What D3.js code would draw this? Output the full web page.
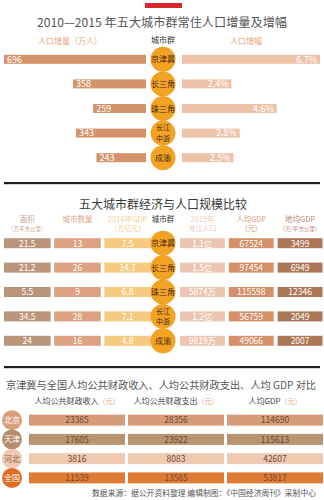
<!DOCTYPE html>
<html>
<head>
<meta charset="utf-8">
<script src="https://cdn.jsdelivr.net/npm/d3@7"></script>
<style>
  body { margin: 0; background: #fff; }
  svg { display: block; font-family: "Noto Sans CJK SC", "Noto Sans", sans-serif; }
</style>
</head>
<body>
<svg width="324" height="500"></svg>
<script>
// ---------- data ----------
const groups = ['京津冀', '长三角', '珠三角', '长江中游', '成渝'];
const popIncrease = [696, 358, 259, 343, 243];      // 万人
const popGrowth = [6.7, 2.4, 4.6, 2.8, 2.5];        // %

const area = ['21.5', '21.2', '5.5', '34.5', '24'];
const cityCount = ['13', '26', '9', '28', '16'];
const gdp2016 = ['7.5', '14.7', '6.8', '7.1', '4.8'];
const population = ['1.1亿', '1.5亿', '5874万', '1.2亿', '9819万'];
const gdpPerCapita = ['67524', '97454', '115598', '56759', '49066'];
const gdpPerArea = ['3499', '6949', '12346', '2049', '2007'];

const regions = ['北京', '天津', '河北', '全国'];
const fiscalIncome = [23385, 17605, 3816, 11539];
const fiscalSpending = [28356, 23922, 8083, 13585];
const regionGdp = [114690, 115613, 42607, 53817];

const svg = d3.select('svg');
const circleFill = '#f2a324';

// ---------- top ornament + title 1 ----------
svg.append('rect').attr('x', 145).attr('y', 3).attr('width', 37).attr('height', 5).attr('fill', '#d8262c');

svg.append('text')
   .attr('x', 37).attr('y', 27)
   .attr('font-size', 12).attr('fill', '#555')
   .attr('textLength', 250).attr('lengthAdjust', 'spacingAndGlyphs')
   .text('2010—2015 年五大城市群常住人口增量及增幅');

const head1 = svg.append('g').attr('font-size', 8);
head1.append('text').attr('x', 70).attr('y', 44).attr('text-anchor', 'middle').attr('fill', '#eaa57e')
     .text('人口增量（万人）');
head1.append('text').attr('x', 163).attr('y', 43).attr('text-anchor', 'middle').attr('fill', '#333')
     .text('城市群');
head1.append('text').attr('x', 246).attr('y', 44).attr('text-anchor', 'middle').attr('fill', '#eaa57e')
     .text('人口增幅');

//--------------SECTION 1 SCALES--------------------------------
const y1 = d3.scaleBand().domain(groups).range([47, 170]);
const xLeft = d3.scaleLinear().domain([0, 696]).range([0, 142]);
const xRight = d3.scaleLinear().domain([0, 6.7]).range([0, 138]);
const barH = 9;

const rows1 = svg.append('g').selectAll('g')
   .data(groups.map((g, i) => ({g, inc: popIncrease[i], gr: popGrowth[i]})))
   .enter().append('g')
   .attr('transform', d => `translate(0,${y1(d.g) + y1.bandwidth() / 2})`);

rows1.append('rect')
   .attr('x', d => 146 - xLeft(d.inc)).attr('y', -barH / 2)
   .attr('width', d => xLeft(d.inc)).attr('height', barH)
   .attr('fill', '#d5936c');
rows1.append('text')
   .attr('x', d => 146 - xLeft(d.inc) + 3).attr('y', 3.2)
   .attr('font-size', 9).attr('fill', '#fff')
   .text(d => d.inc);

rows1.append('rect')
   .attr('x', 182).attr('y', -barH / 2)
   .attr('width', d => xRight(d.gr)).attr('height', barH)
   .attr('fill', '#ecc3a8');
rows1.append('text')
   .attr('x', d => 182 + xRight(d.gr) - 3).attr('y', 3.2)
   .attr('text-anchor', 'end')
   .attr('font-size', 9).attr('fill', '#fff')
   .text(d => d.gr + '%');

function drawBadge(sel, cx, r) {
  sel.append('circle').attr('cx', cx).attr('cy', 0).attr('r', r).attr('fill', circleFill);
  sel.each(function(d) {
    const g = d3.select(this);
    if (d.g.length > 3) {
      // two short lines inside the badge
      [d.g.slice(0, 2), d.g.slice(2)].forEach((s, k) => {
        g.append('text').attr('x', cx).attr('y', k ? 7.6 : -2.8)
         .attr('text-anchor', 'middle').attr('font-size', 7).attr('fill', '#4a2a10')
         .text(s);
      });
    } else {
      g.append('text').attr('x', cx).attr('y', 3)
       .attr('text-anchor', 'middle').attr('font-size', 8).attr('fill', '#4a2a10')
       .text(d.g);
    }
  });
}
drawBadge(rows1, 163, 12.5);

// divider
svg.append('rect').attr('x', 4).attr('y', 182).attr('width', 316).attr('height', 2.2).attr('fill', '#1e1e1e');

// ---------- title 2 ----------
svg.append('text')
   .attr('x', 163).attr('y', 209)
   .attr('text-anchor', 'middle')
   .attr('font-size', 12).attr('fill', '#3a3a3a')
   .text('五大城市群经济与人口规模比较');

const cols2 = [
  {key: 'area', vals: area, fill: '#bb957a', head: ['面积', '（万平方公里）'], hc: '#c9a48b'},
  {key: 'city', vals: cityCount, fill: '#dca281', head: ['城市数量'], hc: '#e2a686'},
  {key: 'gdp', vals: gdp2016, fill: '#f7ca82', head: ['2016年GDP', '（万亿元）'], hc: '#f5cf94'},
  {key: 'pop', vals: population, fill: '#edc6b1', head: ['2015年', '常住人口'], hc: '#efcdbb'},
  {key: 'pc', vals: gdpPerCapita, fill: '#d58f69', head: ['人均GDP', '（元）'], hc: '#dc9874'},
  {key: 'pa', vals: gdpPerArea, fill: '#ad7656', head: ['地均GDP', '（万/平方公里）'], hc: '#b7866a'}
];

const xL2 = d3.scaleBand().domain(cols2.slice(0, 3).map(c => c.key)).range([4, 151]).paddingInner(0.07);
const xR2 = d3.scaleBand().domain(cols2.slice(3).map(c => c.key)).range([180, 324]).paddingInner(0.05);
const x2 = k => xL2.domain().includes(k) ? xL2(k) : xR2(k);
const bw2 = k => xL2.domain().includes(k) ? xL2.bandwidth() : xR2.bandwidth() - 1.5;
const y2 = d3.scaleBand().domain(groups).range([231, 353]);

const head2 = svg.append('g');
cols2.forEach(c => {
  const cx = x2(c.key) + bw2(c.key) / 2;
  head2.append('text').attr('x', cx).attr('y', 222).attr('text-anchor', 'middle')
       .attr('font-size', 7.5).attr('fill', c.hc).text(c.head[0]);
  if (c.head[1]) {
    const small = c.head[1].length > 5;
    head2.append('text').attr('x', cx).attr('y', 231).attr('text-anchor', 'middle')
         .attr('font-size', small ? 5.5 : 7).attr('fill', c.hc).text(c.head[1]);
  }
});
head2.append('text').attr('x', 163).attr('y', 222).attr('text-anchor', 'middle')
     .attr('font-size', 7.5).attr('fill', '#333').text('城市群');

const rows2 = svg.append('g').selectAll('g')
   .data(groups.map((g, i) => ({g, i})))
   .enter().append('g')
   .attr('transform', d => `translate(0,${y2(d.g) + y2.bandwidth() / 2})`);

cols2.forEach(c => {
  rows2.append('rect')
     .attr('x', x2(c.key)).attr('y', -5)
     .attr('width', bw2(c.key)).attr('height', 10)
     .attr('fill', c.fill);
  rows2.append('text')
     .attr('x', x2(c.key) + bw2(c.key) / 2).attr('y', 3.3)
     .attr('text-anchor', 'middle')
     .attr('font-size', 8.5).attr('fill', '#fff')
     .text(d => c.vals[d.i]);
});
drawBadge(rows2, 163, 12.5);

// divider
svg.append('rect').attr('x', 4).attr('y', 366).attr('width', 316).attr('height', 2.2).attr('fill', '#1e1e1e');

// ---------- title 3 ----------
svg.append('text')
   .attr('x', 6).attr('y', 389)
   .attr('font-size', 10).attr('fill', '#555')
   .attr('textLength', 310).attr('lengthAdjust', 'spacingAndGlyphs')
   .text('京津冀与全国人均公共财政收入、人均公共财政支出、人均 GDP 对比');

const cols3 = [
  {key: 'inc', vals: fiscalIncome, head: '人均公共财政收入'},
  {key: 'spd', vals: fiscalSpending, head: '人均公共财政支出'},
  {key: 'gdp', vals: regionGdp, head: '人均GDP'}
];
const regionFill = ['#d69b77', '#b89471', '#f0c9b1', '#e07b35'];
const badgeFill = ['#d99e7b', '#b48f6c', '#efcab3', '#e06c22'];

const x3 = d3.scaleBand().domain(cols3.map(c => c.key)).range([29, 323]).paddingInner(0.03);
const y3 = d3.scaleBand().domain(regions).range([410.5, 487.5]);

cols3.forEach(c => {
  const t = svg.append('text').attr('x', x3(c.key) + x3.bandwidth() / 2).attr('y', 404)
     .attr('text-anchor', 'middle').attr('font-size', 8);
  t.append('tspan').attr('fill', '#444').text(c.head);
  t.append('tspan').attr('fill', '#e49f7f').attr('font-size', 7).text('（元）');
});

const rows3 = svg.append('g').selectAll('g')
   .data(regions.map((r, i) => ({r, i})))
   .enter().append('g')
   .attr('transform', d => `translate(0,${y3(d.r) + y3.bandwidth() / 2})`);

cols3.forEach(c => {
  rows3.append('rect')
     .attr('x', x3(c.key)).attr('y', -5.5)
     .attr('width', x3.bandwidth()).attr('height', 11)
     .attr('fill', d => regionFill[d.i]);
  rows3.append('text')
     .attr('x', x3(c.key) + x3.bandwidth() / 2).attr('y', 3.2)
     .attr('text-anchor', 'middle')
     .attr('font-size', 8.5).attr('fill', '#6e4a35')
     .text(d => c.vals[d.i]);
});

rows3.append('circle').attr('cx', 12).attr('cy', 0).attr('r', 10)
     .attr('fill', d => badgeFill[d.i]);
rows3.append('text').attr('x', 12).attr('y', 3)
     .attr('text-anchor', 'middle').attr('font-size', 8)
     .attr('fill', d => d.i === 2 ? '#8a5a3c' : '#fff')
     .text(d => d.r);

// footer
svg.append('text')
   .attr('x', 316).attr('y', 496)
   .attr('text-anchor', 'end')
   .attr('font-size', 7.8).attr('fill', '#555')
   .text('数据来源：据公开资料整理  编辑制图：《中国经济周刊》采制中心');
</script>
</body>
</html>
